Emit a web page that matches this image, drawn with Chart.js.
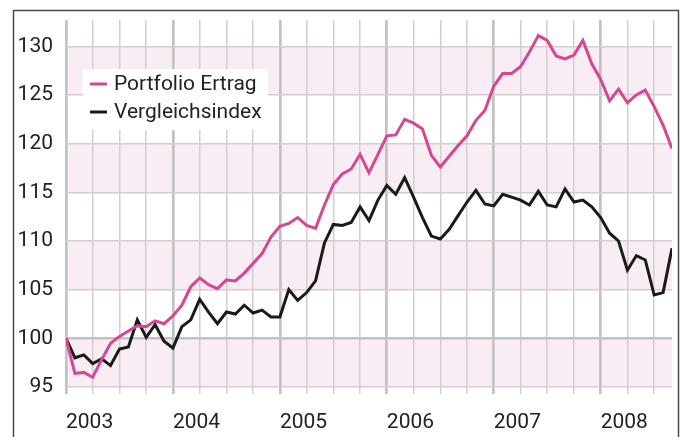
<!DOCTYPE html>
<html>
<head>
<meta charset="utf-8">
<script src="https://cdn.jsdelivr.net/npm/chart.js@4"></script>
<style>
  html, body { margin: 0; padding: 0; background: #fff; overflow: hidden; }
  #wrap { width: 681px; height: 437px; }
</style>
</head>
<body>
<div id="wrap"><canvas id="chart" width="681" height="437"></canvas></div>
<script>
// ===== Portfolio vs. Vergleichsindex, monthly 01/2003 – 09/2008 =====

const START_YEAR = 2003;
const months = Array.from({ length: 69 }, (_, i) => i); // month index from Jan 2003

const portfolio = [
  100, 96.4, 96.5, 96.0, 97.8, 99.5, 100.2, 100.75, 101.3, 101.2, 101.8, 101.5,
  102.3, 103.4, 105.3, 106.2, 105.5, 105.1, 106.0, 105.9, 106.7, 107.7, 108.7, 110.4,
  111.5, 111.8, 112.4, 111.6, 111.3, 113.7, 115.8, 116.9, 117.4, 118.9, 117.0, 118.9,
  120.8, 120.9, 122.5, 122.1, 121.5, 118.8, 117.6, 118.7, 119.8, 120.8, 122.4, 123.4,
  125.9, 127.2, 127.2, 127.9, 129.4, 131.1, 130.6, 129.0, 128.7, 129.1, 130.6, 128.2,
  126.6, 124.4, 125.6, 124.2, 125.0, 125.5, 123.8, 121.9, 119.5
];

const benchmark = [
  100, 98.0, 98.3, 97.4, 97.9, 97.2, 98.9, 99.1, 101.9, 100.1, 101.4, 99.7,
  99.0, 101.2, 101.9, 104.0, 102.7, 101.5, 102.7, 102.5, 103.4, 102.6, 102.9, 102.2,
  102.2, 105.0, 103.9, 104.7, 105.9, 109.8, 111.7, 111.6, 111.9, 113.5, 112.1, 114.2,
  115.7, 114.8, 116.5, 114.5, 112.4, 110.5, 110.2, 111.2, 112.6, 114.0, 115.2, 113.8,
  113.6, 114.8, 114.5, 114.2, 113.7, 115.1, 113.7, 113.5, 115.35, 114.0, 114.2, 113.5,
  112.4, 110.8, 110.0, 107.0, 108.5, 108.05, 104.45, 104.7, 109.25
];

const yTicks = [95, 100, 105, 110, 115, 120, 125, 130];
const bands = [[95, 100], [105, 110], [115, 120], [125, 130]];

const C = {
  pink:   '#d6478f',
  black:  '#1a1a1a',
  band:   '#f9edf5',
  grid:   '#d4cdd4',
  major:  '#c2c2c2',
  frame:  '#4a4a4a',
  text:   '#222'
};
const FONT = "Roboto, 'Open Sans', sans-serif";

// pink bands behind the grid
const pluginBands = {
  id: 'bands',
  beforeDraw(chart) {
    const { ctx, chartArea: { left, right }, scales: { y } } = chart;
    ctx.save();
    ctx.fillStyle = C.band;
    bands.forEach(([lo, hi]) => {
      const top = y.getPixelForValue(hi);
      ctx.fillRect(left, top, right - left, y.getPixelForValue(lo) - top);
    });
    ctx.restore();
  }
};

// outer frame, open at the bottom
const pluginFrame = {
  id: 'frame',
  afterDraw(chart) {
    const { ctx } = chart;
    ctx.save();
    ctx.strokeStyle = C.frame;
    ctx.lineWidth = 1.5;
    ctx.strokeRect(13.5, 10.5, 665, 500);
    ctx.restore();
  }
};

// legend in a white box inside the plot
const pluginBoxLegend = {
  id: 'boxLegend',
  beforeDatasetsDraw(chart) {
    const { ctx } = chart;
    ctx.save();
    ctx.fillStyle = '#fff';
    ctx.fillRect(83, 69, 185, 61);
    ctx.font = `21px ${FONT}`;
    ctx.textBaseline = 'middle';
    chart.data.datasets.forEach((ds, i) => {
      const yy = 84 + i * 28;
      ctx.strokeStyle = ds.borderColor;
      ctx.lineWidth = 3;
      ctx.beginPath();
      ctx.moveTo(90, yy);
      ctx.lineTo(107, yy);
      ctx.stroke();
      ctx.fillStyle = C.text;
      ctx.fillText(ds.label, 114, yy + 1);
    });
    ctx.restore();
  }
};

new Chart(document.getElementById('chart'), {
  type: 'line',
  data: {
    labels: months,
    datasets: [
      {
        label: 'Portfolio Ertrag',
        data: months.map((m, i) => ({ x: m, y: portfolio[i] })),
        borderColor: C.pink,
        borderWidth: 3,
        pointRadius: 0,
        tension: 0
      },
      {
        label: 'Vergleichsindex',
        data: months.map((m, i) => ({ x: m, y: benchmark[i] })),
        borderColor: C.black,
        borderWidth: 3,
        pointRadius: 0,
        tension: 0
      }
    ]
  },
  options: {
    responsive: false,
    animation: false,
    layout: { padding: { left: 0, right: 9, top: 20, bottom: 0 } },
    plugins: { legend: { display: false }, tooltip: { enabled: false } },
    scales: {
      x: {
        type: 'linear',
        min: 0, max: 68,
        afterBuildTicks: s => { s.ticks = months.filter(m => m % 3 === 0).map(v => ({ value: v })); },
        afterFit: s => { s.height = 50; s.paddingLeft = 0; s.paddingRight = 0; },
        border: { display: false },
        grid: {
          color: c => (c.tick && c.tick.value % 12 === 0) ? C.major : C.grid,
          lineWidth: c => (c.tick && c.tick.value % 12 === 0) ? 2.7 : 1.5,
          tickLength: 7
        },
        ticks: {
          autoSkip: false, maxRotation: 0, align: 'start', padding: 16,
          color: C.text, font: { size: 21, family: FONT },
          callback: v => v % 12 === 0 ? String(START_YEAR + v / 12) : ''
        }
      },
      y: {
        min: 95, max: 132.7,
        afterBuildTicks: s => { s.ticks = yTicks.map(v => ({ value: v })); },
        afterFit: s => { s.width = 66; s.paddingTop = 0; s.paddingBottom = 0; },
        border: { display: false },
        grid: {
          color: c => (c.tick && c.tick.value === 100) ? C.major : C.grid,
          lineWidth: c => (c.tick && c.tick.value === 100) ? 2.5 : 1.5,
          drawTicks: false
        },
        ticks: {
          padding: 13,
          color: C.text, font: { size: 21, family: FONT }
        }
      }
    }
  },
  plugins: [pluginBands, pluginBoxLegend, pluginFrame]
});
</script>
</body>
</html>
